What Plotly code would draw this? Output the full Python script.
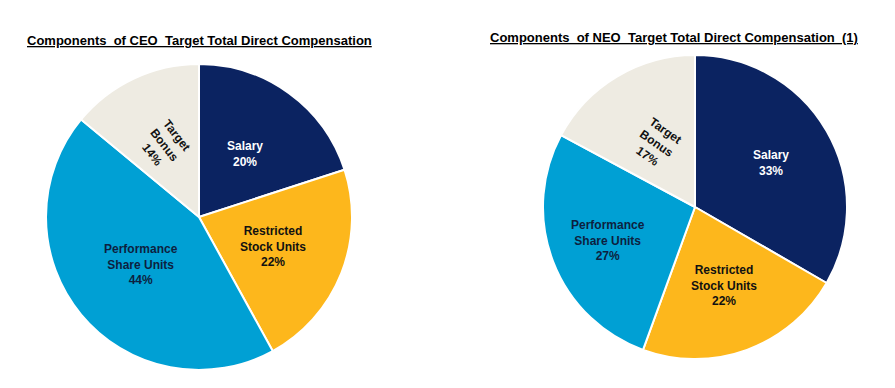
import numpy as np
import plotly.graph_objects as go

categories = ["Salary", "Restricted Stock Units", "Performance Share Units", "Target Bonus"]
label_text = ["Salary", "Restricted<br>Stock Units", "Performance<br>Share Units", "Target<br>Bonus"]
ceo_values = [20, 22, 44, 14]
neo_values = [33, 22, 27, 17]
ceo_title = "Components  of CEO  Target Total Direct Compensation"
neo_title = "Components  of NEO  Target Total Direct Compensation  (1)"

colors = ["#0b2361", "#fdb71c", "#00a0d4", "#eeebe2"]
text_colors = ["#ffffff", "#111111", "#0d1f40", "#111111"]

W, H = 895, 388
FONT = "Liberation Sans, Arial, sans-serif"

# pie domains (paper)
dom_left = dict(x=[46 / W, 352 / W], y=[1 - 370 / H, 1 - 64 / H])
dom_right = dict(x=[543 / W, 847 / W], y=[1 - 359 / H, 1 - 55 / H])

# label placement (fraction of radius) and text angles per slice
lbl_frac_left = [0.51, 0.52, 0.49, 0.52]
lbl_frac_right = [0.58, 0.55, 0.61, 0.49]
ang_left = [0, 0, 0, 52]
ang_right = [0, 0, 0, 35]

fig = go.Figure()
for vals, dom in [(ceo_values, dom_left), (neo_values, dom_right)]:
    fig.add_trace(go.Pie(
        labels=categories, values=vals, domain=dom, sort=False,
        direction="clockwise", rotation=0, textinfo="none",
        marker=dict(colors=colors, line=dict(color="#ffffff", width=2)),
        showlegend=False, hoverinfo="label+percent",
    ))

annotations = []
for vals, dom, fracs, angs in [(ceo_values, dom_left, lbl_frac_left, ang_left),
                               (neo_values, dom_right, lbl_frac_right, ang_right)]:
    v = np.array(vals, dtype=float)
    cum = np.cumsum(v) / v.sum()
    mid = (cum - v / v.sum() / 2) * 2 * np.pi
    cx = (dom["x"][0] + dom["x"][1]) / 2 * W
    cy = (1 - (dom["y"][0] + dom["y"][1]) / 2) * H
    r = (dom["x"][1] - dom["x"][0]) * W / 2
    for i, a in enumerate(mid):
        px = cx + fracs[i] * r * np.sin(a)
        py = cy - fracs[i] * r * np.cos(a)
        annotations.append(dict(
            x=px / W, y=1 - py / H, xref="paper", yref="paper",
            text=f"{label_text[i]}<br>{round(vals[i])}%", showarrow=False,
            textangle=angs[i], xanchor="center", yanchor="middle",
            font=dict(family=FONT, size=12, color=text_colors[i], weight="bold"),
        ))

for t, x, y in [(ceo_title, 199.5 / W, 1 - 41 / H), (neo_title, 674 / W, 1 - 38 / H)]:
    annotations.append(dict(
        x=x, y=y, xref="paper", yref="paper", text=t, showarrow=False,
        xanchor="center", yanchor="middle",
        font=dict(family=FONT, size=13, color="#000000", weight="bold", lineposition="under"),
    ))

fig.update_layout(
    width=W, height=H, margin=dict(l=0, r=0, t=0, b=0),
    paper_bgcolor="#ffffff", plot_bgcolor="#ffffff",
    annotations=annotations,
)
fig.write_html("out.html", config={"displayModeBar": False},
               post_script="document.body.style.margin='0';document.body.style.overflow='hidden';")
